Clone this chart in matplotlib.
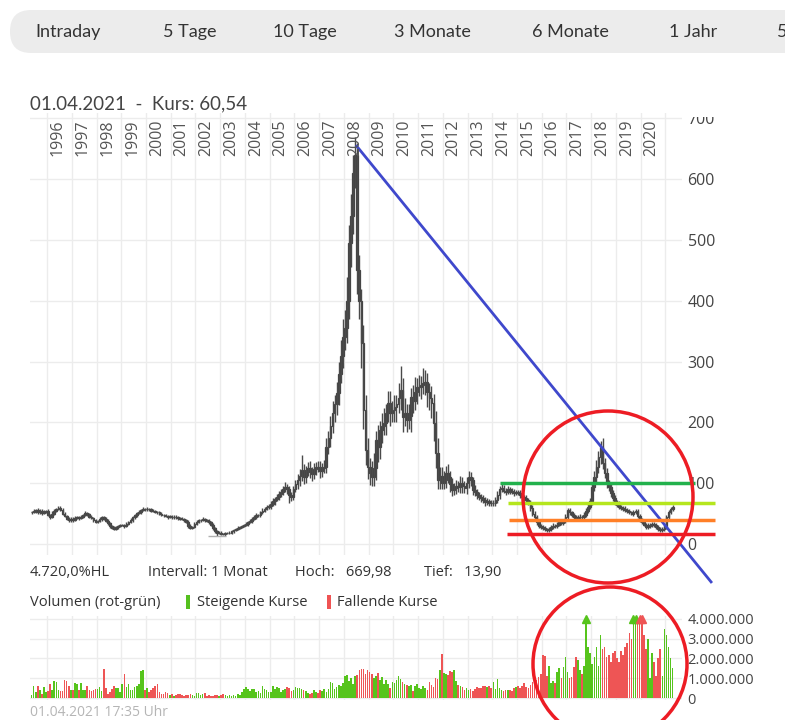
import numpy as np
import pandas as pd
import matplotlib
matplotlib.use('Agg')
import matplotlib.pyplot as plt
from matplotlib.patches import Ellipse, FancyBboxPatch, Rectangle

# Monthly closes, May 1995 .. April 2021
close = [
    53, 54, 56, 52, 55, 51, 53, 54,                                  # 1995
    48, 45, 50, 55, 58, 60, 56, 50, 46, 42, 39, 42,                  # 1996
    40, 43, 44, 43, 45, 48, 51, 49, 45, 43, 40, 37,                  # 1997
    38, 41, 44, 42, 38, 34, 30, 27, 25, 28, 30, 31,                  # 1998
    31, 30, 33, 36, 40, 44, 47, 51, 53, 56, 58, 57,                  # 1999
    58, 57, 55, 54, 53, 52, 50, 48, 47, 46, 45, 45,                  # 2000
    44, 45, 44, 43, 42, 41, 39, 36, 30, 26, 28, 33,                  # 2001
    36, 39, 40, 41, 39, 38, 36, 32, 26, 21, 18, 19,                  # 2002
    17, 16, 18, 18, 19, 21, 23, 25, 26, 28, 30, 31,                  # 2003
    33, 36, 38, 42, 44, 47, 48, 52, 55, 58, 61, 62,                  # 2004
    66, 70, 74, 77, 82, 86, 90, 94, 90, 80, 77, 90,                  # 2005
    98, 105, 112, 122, 110, 120, 125, 118, 115, 124, 127, 126,       # 2006
    120, 125, 127, 160, 174, 195, 215, 230, 248, 280, 310, 340,      # 2007
    355, 400, 495, 540, 610, 640, 451, 400, 330, 220, 155, 127,      # 2008
    117, 110, 125, 171, 160, 187, 195, 199, 215, 232, 215, 220,      # 2009
    225, 230, 240, 253, 209, 215, 204, 210, 242, 235, 250, 258,      # 2010
    258, 262, 265, 266, 250, 240, 232, 199, 150, 105, 112, 100,      # 2011
    105, 117, 110, 98, 89, 92, 95, 94, 100, 96, 92, 100,             # 2012
    110, 105, 89, 85, 80, 77, 75, 72, 69, 70, 68, 67,                # 2013
    67, 72, 80, 90, 92, 88, 86, 90, 88, 86, 84, 85,                  # 2014
    84, 80, 77, 75, 72, 69, 60, 50, 44, 36, 30, 28,                  # 2015
    26, 24, 23, 25, 28, 30, 29, 32, 36, 34, 38, 44,                  # 2016
    56, 52, 48, 44, 42, 44, 45, 44, 48, 55, 61, 70,                  # 2017
    94, 110, 127, 143, 160, 133, 117, 100, 94, 84, 75, 69,           # 2018
    65, 61, 60, 58, 56, 54, 52, 50, 52, 55, 46, 40,                  # 2019
    36, 32, 28, 30, 31, 33, 31, 28, 25, 23, 25, 28,                  # 2020
    44, 52, 58, 60.54,                                               # 2021
]
first_open = 52

# wick length above / below the candle body
wick_up = [
    2, 3, 2, 3, 2, 2, 3, 2,
    3, 2, 4, 3, 2, 3, 2, 3, 2, 2, 3, 2,
    2, 3, 2, 2, 3, 2, 3, 2, 2, 3, 2, 2,
    2, 3, 2, 2, 2, 3, 2, 2, 3, 2, 2, 2,
    2, 2, 3, 2, 3, 2, 3, 2, 3, 2, 3, 2,
    3, 2, 2, 3, 2, 2, 2, 3, 2, 2, 2, 2,
    2, 3, 2, 2, 2, 3, 2, 2, 3, 3, 2, 3,
    3, 2, 2, 3, 2, 2, 3, 2, 3, 2, 2, 2,
    2, 2, 2, 2, 2, 2, 2, 2, 3, 2, 2, 2,
    3, 2, 3, 2, 3, 4, 2, 3, 4, 3, 3, 4,
    4, 5, 4, 6, 5, 4, 6, 8, 5, 6, 5, 6,
    8, 10, 12, 24, 10, 8, 10, 12, 8, 10, 8, 10,
    10, 8, 12, 15, 12, 15, 20, 15, 18, 20, 25, 30,
    30, 40, 30, 35, 30, 29.98, 20, 25, 20, 30, 25, 20,
    15, 20, 25, 15, 25, 15, 20, 25, 15, 20, 20, 15,
    20, 15, 25, 40, 20, 25, 15, 20, 15, 20, 25, 15,
    20, 15, 25, 20, 15, 15, 20, 15, 20, 25, 15, 15,
    15, 12, 15, 10, 10, 8, 10, 8, 12, 10, 8, 10,
    10, 8, 6, 8, 6, 5, 6, 5, 6, 5, 4, 5,
    5, 6, 8, 5, 6, 5, 4, 5, 4, 5, 4, 4,
    4, 5, 4, 4, 5, 4, 4, 5, 4, 4, 3, 3,
    3, 3, 2, 3, 3, 4, 3, 4, 3, 4, 3, 5,
    4, 4, 3, 3, 4, 3, 4, 3, 4, 5, 5, 6,
    8, 10, 12, 10, 10, 15, 8, 8, 6, 6, 5, 5,
    4, 5, 4, 3, 4, 3, 4, 3, 4, 3, 3, 3,
    3, 3, 3, 4, 3, 3, 3, 3, 3, 3, 3, 3,
    4, 4, 3, 3,
]
wick_dn = [
    2, 2, 3, 2, 2, 3, 2, 2,
    2, 3, 2, 2, 3, 2, 2, 3, 2, 2, 3, 2,
    3, 2, 2, 3, 2, 2, 2, 3, 2, 2, 3, 2,
    2, 2, 3, 2, 2, 2, 3, 2, 2, 2, 3, 2,
    2, 3, 2, 2, 2, 3, 2, 2, 2, 3, 2, 2,
    2, 2, 3, 2, 2, 2, 3, 2, 2, 2, 3, 2,
    2, 2, 2, 3, 2, 2, 3, 2, 3, 2, 2, 2,
    2, 2, 3, 2, 2, 2, 3, 2, 3, 2, 4.1, 2,
    2, 1.5, 2, 2, 2, 2, 2, 2, 2, 2, 2, 2,
    2, 3, 2, 3, 2, 3, 2, 3, 2, 3, 2, 3,
    4, 3, 5, 4, 5, 4, 6, 5, 8, 12, 6, 4,
    5, 8, 10, 8, 12, 10, 8, 10, 12, 8, 10, 8,
    12, 10, 8, 10, 12, 15, 12, 15, 18, 20, 15, 20,
    20, 25, 30, 40, 30, 25, 40, 30, 40, 30, 25, 20,
    20, 15, 15, 20, 25, 20, 20, 15, 20, 15, 20, 15,
    20, 25, 15, 20, 25, 15, 20, 15, 25, 20, 15, 20,
    15, 20, 15, 20, 25, 20, 25, 30, 25, 15, 15, 10,
    10, 12, 10, 12, 10, 8, 10, 8, 10, 12, 8, 10,
    8, 10, 8, 6, 6, 5, 6, 5, 6, 5, 5, 4,
    4, 5, 5, 6, 5, 4, 5, 4, 5, 4, 5, 4,
    4, 4, 5, 4, 4, 4, 5, 4, 5, 4, 4, 3,
    3, 3, 3, 3, 3, 3, 3, 3, 3, 3, 3, 3,
    4, 4, 4, 3, 3, 3, 3, 3, 4, 4, 4, 4,
    5, 6, 8, 10, 12, 10, 8, 8, 6, 6, 5, 5,
    4, 4, 4, 3, 4, 3, 3, 3, 4, 3, 3, 3,
    3, 3, 3, 3, 3, 3, 3, 3, 3, 3, 3, 3,
    3, 4, 3, 3,
]

# monthly volume in millions
volume = [
    0.15, 0.6, 0.3, 0.6, 0.4, 0.2, 0.55, 0.3,
    0.35, 0.7, 0.4, 0.85, 0.8, 0.4, 0.35, 0.35, 0.9, 0.85, 0.6, 0.4,
    0.4, 0.75, 0.7, 0.4, 0.75, 0.4, 0.4, 0.6, 0.4, 0.35, 0.4, 0.45,
    0.45, 0.55, 0.35, 1.45, 0.5, 0.2, 0.3, 0.45, 0.6, 0.5, 0.5, 0.3,
    0.7, 1.2, 0.55, 0.7, 0.4, 0.4, 0.55, 0.6, 0.7, 1.35, 1.4, 0.4,
    0.5, 0.3, 0.4, 0.5, 0.6, 0.7, 0.3, 0.2, 0.2, 0.3, 0.25, 0.15,
    0.2, 0.1, 0.15, 0.2, 0.2, 0.15, 0.1, 0.15, 0.15, 0.2, 0.15, 0.1,
    0.25, 0.25, 0.15, 0.2, 0.25, 0.1, 0.15, 0.1, 0.1, 0.15, 0.15, 0.12,
    0.15, 0.2, 0.15, 0.1, 0.15, 0.1, 0.15, 0.12, 0.2, 0.15, 0.3, 0.45,
    0.55, 0.45, 0.35, 0.45, 0.45, 0.3, 0.35, 0.25, 0.6, 0.45, 0.4, 0.3,
    0.3, 0.6, 0.45, 0.55, 0.5, 0.3, 0.4, 0.45, 0.55, 0.5, 0.35, 0.4,
    0.55, 0.5, 0.5, 0.45, 0.4, 0.35, 0.25, 0.2, 0.25, 0.4, 0.3, 0.25,
    0.4, 0.35, 0.45, 0.3, 0.45, 0.8, 0.75, 0.45, 0.55, 0.65, 0.6, 0.75,
    1.1, 1.15, 0.85, 1.0, 0.7, 1.1, 1.15, 1.4, 1.45, 1.45, 1.2, 1.4,
    1.3, 1.2, 1.0, 1.1, 1.25, 0.9, 1.05, 0.7, 0.9, 0.7, 0.5, 0.8,
    0.75, 0.9, 1.1, 0.95, 0.8, 0.7, 0.65, 0.6, 0.65, 0.35, 0.6, 0.7,
    0.5, 0.45, 0.6, 0.5, 0.4, 0.8, 0.65, 0.55, 1.0, 0.95, 1.4, 2.25,
    1.25, 1.2, 1.15, 1.35, 1.3, 1.4, 0.85, 0.65, 0.6, 0.55, 0.4, 0.5,
    0.4, 0.45, 0.35, 0.45, 0.55, 0.5, 0.5, 0.6, 0.6, 0.55, 0.6, 0.5,
    0.8, 0.45, 0.95, 0.5, 0.4, 0.35, 0.4, 0.4, 0.4, 0.35, 0.5, 0.55,
    0.6, 0.5, 0.6, 0.75, 0.55, 0.5, 0.65, 0.8, 0.7, 0.9, 1.05, 1.2,
    2.2, 2.15, 1.1, 1.6, 0.75, 0.85, 0.75, 1.3, 1.5, 1.0, 1.55, 2.1,
    1.3, 1.0, 1.05, 1.55, 2.1, 1.9, 1.4, 1.2, 1.6, 4.5, 2.6, 2.3,
    1.7, 2.1, 2.6, 1.6, 3.2, 2.5, 2.6, 2.1, 2.2, 1.8, 2.3, 2.4,
    2.0, 1.8, 2.4, 2.2, 2.6, 2.8, 3.3, 3.0, 4.5, 4.5, 3.8, 4.5,
    4.5, 3.2, 2.5, 3.0, 1.0, 2.3, 1.8, 1.1, 2.0, 2.5, 1.1, 3.5,
    3.2, 2.6, 2.0, 1.5,
]

years = list(range(1996, 2022))
year_labels = [str(y) for y in range(1996, 2021)]
price_ticks = [0, 100, 200, 300, 400, 500, 600, 700]
vol_ticks = [0, 1, 2, 3, 4]
vol_tick_labels = ['0', '1.000.000', '2.000.000', '3.000.000', '4.000.000']
tabs = ['Intraday', '5 Tage', '10 Tage', '3 Monate', '6 Monate', '1 Jahr', '5']
tab_x = [35, 163, 273, 394, 532, 669, 777]

# support / resistance lines drawn on the chart
levels = [100, 67, 39.5, 16.4]
level_colors = ['#22b14c', '#b5e61d', '#ff7f27', '#ed1c24']
level_start = [2014.31, 2014.63, 2014.67, 2014.59]
level_end = [2022.19, 2023.0, 2023.0, 2023.0]

W, H = 785, 720


def main():
    plt.rcParams['font.family'] = ['Open Sans', 'DejaVu Sans']

    n = len(close)
    dates = pd.date_range('1995-05-01', periods=n, freq='MS')
    x = np.array(dates.year + (dates.month - 1) / 12 + 1 / 24)
    c = np.array(close, dtype=float)
    o = np.concatenate([[first_open], c[:-1]])
    top = np.maximum(o, c)
    bot = np.minimum(o, c)
    high = top + np.array(wick_up)
    low = bot - np.array(wick_dn)
    rising = c >= o
    vol = np.array(volume[:n])

    fig = plt.figure(figsize=(W / 100, H / 100), dpi=100)

    # tab bar
    fig.add_artist(FancyBboxPatch((10 / W, 1 - 53 / H), 800 / W, 43 / H,
                                  boxstyle='round,pad=0,rounding_size=0.027',
                                  mutation_aspect=W / H,
                                  transform=fig.transFigure,
                                  fc='#ececec', ec='none'))
    for t, tx in zip(tabs, tab_x):
        fig.text(tx / W, 1 - 32 / H, t, fontsize=13, color='#333333',
                 family=['Lato', 'DejaVu Sans'], va='center')

    fig.text(30 / W, 1 - 104 / H, '01.04.2021  -  Kurs: 60,54', fontsize=13.5,
             color='#444444', family=['Lato', 'DejaVu Sans'], va='center')

    # price panel
    ax = fig.add_axes([30 / W, 1 - 555 / H, 652 / W, 442 / H])
    ax.set_xlim(1995.31, 2021.67)
    ax.set_ylim(-18, 709)
    ax.set_xticks(years)
    ax.set_yticks(price_ticks)
    ax.yaxis.tick_right()
    ax.tick_params(axis='both', length=0)
    ax.tick_params(axis='x', labelbottom=False)
    ax.tick_params(axis='y', pad=4, labelsize=11.5, labelcolor='#444444')
    ax.grid(color='#ececec', lw=1)
    ax.set_axisbelow(True)
    for s in ax.spines.values():
        s.set_visible(False)

    for yl in year_labels:
        ax.text(int(yl) + 0.44, 698, yl, rotation=90, ha='center', va='top',
                fontsize=11.5, color='#555555')

    ax.vlines(x, low, high, color='#4a4a4a', lw=1.0)
    body = np.maximum(top - bot, 1.0)
    ax.bar(x, body, bottom=bot, width=0.07,
           color=np.where(rising, '#ffffff', '#1a1a1a'),
           edgecolor='#444444', linewidth=0.9)
    k = int(np.argmin(low))
    ax.hlines(low[k], x[k] - 0.35, x[k] + 0.35, color='#b0b0b0', lw=1)

    # trend line and levels
    ax.plot([2008.49, 2022.88], [656, -64], color='#3f48cc', lw=2,
            clip_on=False, solid_capstyle='butt')
    for lv, col, x0, x1 in zip(levels, level_colors, level_start, level_end):
        ax.plot([x0, x1], [lv, lv], color=col, lw=2.5, clip_on=False,
                solid_capstyle='butt')

    # info rows
    fig.text(30 / W, 1 - 573 / H, '4.720,0%HL', fontsize=10.5, color='#333333', va='center')
    fig.text(148 / W, 1 - 573 / H, 'Intervall: 1 Monat', fontsize=10.5, color='#333333', va='center')
    fig.text(295 / W, 1 - 573 / H, 'Hoch:   669,98', fontsize=10.5, color='#333333', va='center')
    fig.text(424 / W, 1 - 573 / H, 'Tief:   13,90', fontsize=10.5, color='#333333', va='center')

    fig.text(30 / W, 1 - 602 / H, 'Volumen (rot-grün)', fontsize=10.5, color='#333333', va='center')
    fig.add_artist(Rectangle((186 / W, 1 - 609 / H), 4 / W, 14 / H,
                             transform=fig.transFigure, fc='#55c01f', ec='none'))
    fig.text(197 / W, 1 - 602 / H, 'Steigende Kurse', fontsize=10.5, color='#333333', va='center')
    fig.add_artist(Rectangle((327 / W, 1 - 609 / H), 4 / W, 14 / H,
                             transform=fig.transFigure, fc='#ef5353', ec='none'))
    fig.text(337 / W, 1 - 602 / H, 'Fallende Kurse', fontsize=10.5, color='#333333', va='center')

    # volume panel
    vax = fig.add_axes([30 / W, 1 - 700 / H, 652 / W, 84 / H])
    vax.set_xlim(1995.31, 2021.67)
    vax.set_ylim(-0.1, 4.15)
    vax.set_xticks(years)
    vax.set_yticks(vol_ticks)
    vax.set_yticklabels(vol_tick_labels)
    vax.yaxis.tick_right()
    vax.tick_params(axis='both', length=0)
    vax.tick_params(axis='x', labelbottom=False)
    vax.tick_params(axis='y', pad=4, labelsize=10.5, labelcolor='#444444')
    vax.grid(color='#ececec', lw=1)
    vax.set_axisbelow(True)
    for s in vax.spines.values():
        s.set_visible(False)

    vcol = np.where(rising, '#56c41c', '#ee5555')
    vax.bar(x, np.minimum(vol, 4.0), width=0.065, color=vcol, linewidth=0)
    over = vol > 4.0
    for xi, ci in zip(x[over], vcol[over]):
        vax.plot(xi, 4.0, marker='^', ms=6, color=ci, clip_on=False)

    fig.text(30 / W, 1 - 712 / H, '01.04.2021 17:35 Uhr', fontsize=10,
             color='#b5b5b5', va='center')

    # red circles
    fig.add_artist(Ellipse((608 / W, 1 - 497 / H), 170 / W, 172 / H,
                           transform=fig.transFigure, fill=False,
                           ec='#ed1c24', lw=2.5))
    fig.add_artist(Ellipse((610 / W, 1 - 664 / H), 154 / W, 154 / H,
                           transform=fig.transFigure, fill=False,
                           ec='#ed1c24', lw=2.5))

    # the page hides the upper half of the top price label
    cover = Rectangle((684 / W, 1 - 117 / H), 60 / W, 25 / H,
                      transform=fig.transFigure, fc='white', ec='none')
    cover.set_zorder(10)
    fig.add_artist(cover)

    fig.savefig('out.png', dpi=100)


if __name__ == '__main__':
    main()
